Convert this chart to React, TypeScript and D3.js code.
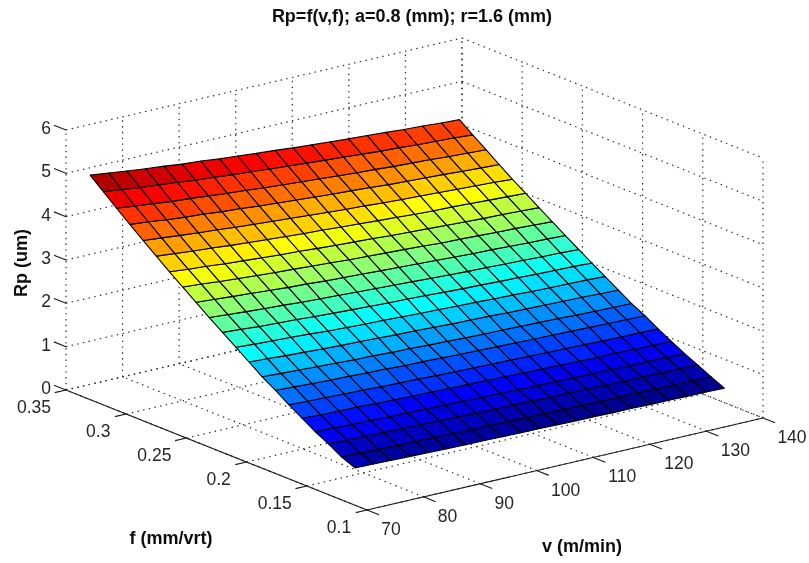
import React, { useEffect, useRef } from 'react'
import * as d3 from 'd3'

const titleText = 'Rp=f(v,f); a=0.8 (mm); r=1.6 (mm)'
const vTicks = [70, 80, 90, 100, 110, 120, 130, 140]
const fTicks = [0.1, 0.15, 0.2, 0.25, 0.3, 0.35]
const fTickLabels = ['0.1', '0.15', '0.2', '0.25', '0.3', '0.35']
const zTicks = [0, 1, 2, 3, 4, 5, 6]

const vValues = [70, 73.3, 76.5, 79.8, 83.1, 86.3, 89.6, 92.9, 96.1, 99.4, 102.7, 105.9, 109.2, 112.5, 115.7, 119, 122.3, 125.5, 128.8, 132.1, 135.3]
const fValues = [0.11, 0.121, 0.132, 0.143, 0.154, 0.165, 0.176, 0.187, 0.198, 0.209, 0.22, 0.231, 0.242, 0.253, 0.264, 0.275, 0.286, 0.297, 0.308, 0.319, 0.33]

// one row per f value, one column per v value
const rpValues = [
  [0.86, 0.85, 0.84, 0.83, 0.82, 0.81, 0.80, 0.80, 0.79, 0.78, 0.78, 0.77, 0.76, 0.76, 0.75, 0.75, 0.74, 0.74, 0.73, 0.73, 0.72],
  [0.99, 0.98, 0.97, 0.96, 0.95, 0.94, 0.94, 0.93, 0.92, 0.92, 0.91, 0.90, 0.90, 0.89, 0.89, 0.88, 0.88, 0.87, 0.87, 0.86, 0.86],
  [1.17, 1.16, 1.15, 1.14, 1.13, 1.12, 1.11, 1.10, 1.09, 1.08, 1.08, 1.07, 1.06, 1.05, 1.05, 1.04, 1.03, 1.03, 1.02, 1.02, 1.01],
  [1.33, 1.32, 1.30, 1.29, 1.28, 1.27, 1.26, 1.25, 1.24, 1.23, 1.22, 1.21, 1.20, 1.20, 1.19, 1.18, 1.18, 1.17, 1.16, 1.16, 1.15],
  [1.52, 1.50, 1.49, 1.48, 1.46, 1.45, 1.44, 1.43, 1.42, 1.41, 1.40, 1.39, 1.38, 1.37, 1.36, 1.35, 1.34, 1.34, 1.33, 1.32, 1.31],
  [1.71, 1.69, 1.68, 1.66, 1.65, 1.63, 1.62, 1.61, 1.59, 1.58, 1.57, 1.56, 1.55, 1.54, 1.53, 1.52, 1.51, 1.50, 1.49, 1.49, 1.48],
  [1.92, 1.90, 1.88, 1.86, 1.85, 1.83, 1.82, 1.80, 1.79, 1.78, 1.76, 1.75, 1.74, 1.73, 1.72, 1.71, 1.70, 1.69, 1.68, 1.67, 1.66],
  [2.11, 2.09, 2.07, 2.05, 2.03, 2.01, 2.00, 1.98, 1.97, 1.95, 1.94, 1.92, 1.91, 1.90, 1.89, 1.88, 1.87, 1.85, 1.84, 1.83, 1.82],
  [2.33, 2.31, 2.28, 2.26, 2.24, 2.22, 2.21, 2.19, 2.17, 2.16, 2.14, 2.12, 2.11, 2.10, 2.08, 2.07, 2.06, 2.05, 2.04, 2.02, 2.01],
  [2.55, 2.52, 2.50, 2.48, 2.46, 2.43, 2.41, 2.39, 2.38, 2.36, 2.34, 2.33, 2.31, 2.30, 2.28, 2.27, 2.25, 2.24, 2.23, 2.22, 2.20],
  [2.77, 2.74, 2.71, 2.69, 2.67, 2.64, 2.62, 2.60, 2.58, 2.56, 2.55, 2.53, 2.51, 2.49, 2.48, 2.46, 2.45, 2.43, 2.42, 2.41, 2.39],
  [2.99, 2.96, 2.93, 2.90, 2.88, 2.85, 2.83, 2.81, 2.79, 2.77, 2.75, 2.73, 2.71, 2.69, 2.67, 2.66, 2.64, 2.63, 2.61, 2.60, 2.58],
  [3.22, 3.19, 3.16, 3.13, 3.10, 3.07, 3.05, 3.02, 3.00, 2.98, 2.96, 2.94, 2.92, 2.90, 2.88, 2.86, 2.85, 2.83, 2.81, 2.80, 2.78],
  [3.45, 3.42, 3.38, 3.35, 3.32, 3.29, 3.27, 3.24, 3.22, 3.19, 3.17, 3.15, 3.13, 3.11, 3.08, 3.07, 3.05, 3.03, 3.02, 3.00, 2.98],
  [3.68, 3.64, 3.61, 3.57, 3.54, 3.51, 3.48, 3.46, 3.43, 3.40, 3.38, 3.36, 3.33, 3.31, 3.29, 3.27, 3.25, 3.23, 3.22, 3.20, 3.18],
  [3.92, 3.88, 3.84, 3.81, 3.77, 3.74, 3.71, 3.68, 3.65, 3.63, 3.60, 3.58, 3.55, 3.53, 3.50, 3.48, 3.47, 3.45, 3.43, 3.41, 3.39],
  [4.16, 4.12, 4.08, 4.04, 4.01, 3.97, 3.94, 3.91, 3.88, 3.85, 3.82, 3.79, 3.77, 3.74, 3.72, 3.70, 3.68, 3.66, 3.64, 3.62, 3.59],
  [4.41, 4.37, 4.32, 4.28, 4.25, 4.21, 4.18, 4.14, 4.11, 4.08, 4.05, 4.02, 4.00, 3.97, 3.94, 3.92, 3.90, 3.88, 3.85, 3.83, 3.81],
  [4.66, 4.61, 4.57, 4.52, 4.49, 4.45, 4.41, 4.38, 4.34, 4.31, 4.28, 4.25, 4.22, 4.19, 4.17, 4.14, 4.12, 4.10, 4.07, 4.05, 4.03],
  [4.92, 4.87, 4.82, 4.78, 4.74, 4.69, 4.66, 4.62, 4.59, 4.55, 4.52, 4.49, 4.46, 4.43, 4.40, 4.37, 4.35, 4.32, 4.30, 4.28, 4.25],
  [5.18, 5.13, 5.08, 5.03, 4.99, 4.94, 4.91, 4.86, 4.83, 4.79, 4.76, 4.72, 4.69, 4.66, 4.63, 4.61, 4.58, 4.55, 4.53, 4.50, 4.48],
]

const FONT = '"Liberation Sans", Arial, sans-serif'

const App = () => {
  const ref = useRef<SVGSVGElement | null>(null)

  useEffect(() => {
    const svg = d3.select(ref.current)
    svg.selectAll('*').remove()

    // Orthographic box: the three scales give each axis' share of its screen vector
    const vScale = d3.scaleLinear().domain([70, 140]).range([0, 1])
    const fScale = d3.scaleLinear().domain([0.1, 0.35]).range([0, 1])
    const zScale = d3.scaleLinear().domain([0, 6]).range([0, 1])
    const origin = { x: 367, y: 510 }
    const vVec = { x: 396, y: -92 }
    const fVec = { x: -301, y: -120 }
    const zVec = { x: 0, y: -260 }

    const project = (v: number, f: number, z: number): [number, number] => [
      origin.x + vScale(v) * vVec.x + fScale(f) * fVec.x + zScale(z) * zVec.x,
      origin.y + vScale(v) * vVec.y + fScale(f) * fVec.y + zScale(z) * zVec.y,
    ]

    // The reference is a resampled screenshot, so everything is slightly soft
    svg.append('defs').append('filter')
      .attr('id', 'soft')
      .attr('filterUnits', 'userSpaceOnUse')
      .attr('x', 0).attr('y', 0).attr('width', 809).attr('height', 563)
      .append('feGaussianBlur')
      .attr('stdDeviation', 0.4)

    svg.append('rect').attr('width', 809).attr('height', 563).attr('fill', 'white')
    const root = svg.append('g').attr('filter', 'url(#soft)')

    const line = d3.line()
    const seg = (g: any, a: [number, number], b: [number, number]) =>
      g.append('path').attr('d', line([a, b]))

    // Grid: floor, back-left wall, back-right wall
    const grid = root.append('g')
      .attr('fill', 'none')
      .attr('stroke', '#2a2a2a')
      .attr('stroke-width', 1.2)
      .attr('stroke-dasharray', '1.4 4.4')

    vTicks.forEach(v => {
      seg(grid, project(v, 0.1, 0), project(v, 0.35, 0))
      seg(grid, project(v, 0.35, 0), project(v, 0.35, 6))
    })
    fTicks.forEach(f => {
      seg(grid, project(70, f, 0), project(140, f, 0))
      seg(grid, project(140, f, 0), project(140, f, 6))
    })
    zTicks.forEach(z => {
      seg(grid, project(70, 0.35, z), project(140, 0.35, z))
      seg(grid, project(140, 0.35, z), project(140, 0.1, z))
    })

    // Axis lines and ticks
    const axes = root.append('g')
      .attr('fill', 'none')
      .attr('stroke', '#1c1c1c')
      .attr('stroke-width', 1.1)
    seg(axes, project(70, 0.35, 0), project(70, 0.1, 0))
    seg(axes, project(70, 0.1, 0), project(140, 0.1, 0))
    vTicks.forEach(v => seg(axes, project(v, 0.1, 0), project(v, 0.09, 0)))
    fTicks.forEach(f => seg(axes, project(70, f, 0), project(68, f, 0)))
    zTicks.forEach(z => seg(axes, project(70, 0.35, z), project(70, 0.36, z)))

    // Jet colormap, 64 levels, as MATLAB scales it to the data range
    const zExtent = d3.extent(rpValues.flat()) as [number, number]
    const levelScale = d3.scaleLinear().domain(zExtent).range([0, 64])
    const jet = d3.scaleLinear<string>()
      .domain([0, 7, 23, 39, 55, 63])
      .range(['#000090', '#0000ff', '#00ffff', '#ffff00', '#ff0000', '#800000'])
    const faceColor = (z: number) => jet(Math.min(63, Math.floor(levelScale(z))))

    // Surface: each face takes the colour of its lowest-index vertex
    const faces = d3.range(fValues.length - 1).flatMap(i =>
      d3.range(vValues.length - 1).map(j => ({ i, j })))
    const closed = d3.line().curve(d3.curveLinearClosed)

    root.append('g')
      .selectAll('path')
      .data(faces)
      .join('path')
      .attr('d', ({ i, j }) => closed([
        project(vValues[j], fValues[i], rpValues[i][j]),
        project(vValues[j + 1], fValues[i], rpValues[i][j + 1]),
        project(vValues[j + 1], fValues[i + 1], rpValues[i + 1][j + 1]),
        project(vValues[j], fValues[i + 1], rpValues[i + 1][j]),
      ]))
      .attr('fill', ({ i, j }) => faceColor(rpValues[i][j]))
      .attr('stroke', '#000')
      .attr('stroke-width', 1.1)
      .attr('stroke-linejoin', 'round')

    // Tick labels
    const labels = root.append('g')
      .attr('font-family', FONT)
      .attr('font-size', 17.5)
      .attr('fill', '#262626')
      .attr('text-anchor', 'middle')

    zTicks.forEach(z => {
      const [x, y] = project(70, 0.35, z)
      labels.append('text')
        .attr('x', x - 15)
        .attr('y', y + 4)
        .attr('text-anchor', 'end')
        .text(z)
    })
    fTicks.forEach((f, i) => {
      const [x, y] = project(70, f, 0)
      const text = fTickLabels[i]
      labels.append('text')
        .attr('x', x + (text.length > 3 ? -32 : -28))
        .attr('y', y + 23)
        .text(text)
    })
    vTicks.forEach(v => {
      const [x, y] = project(v, 0.1, 0)
      labels.append('text')
        .attr('x', x + (v >= 100 ? 29 : 24))
        .attr('y', y + 25)
        .text(v)
    })

    // Title and axis labels
    const bold = root.append('g')
      .attr('font-family', FONT)
      .attr('font-weight', 'bold')
      .attr('font-size', 18)
      .attr('fill', '#111')
      .attr('text-anchor', 'middle')
    bold.append('text').attr('x', 412).attr('y', 22).text(titleText)
    bold.append('text').attr('x', 171).attr('y', 544).text('f (mm/vrt)')
    bold.append('text').attr('x', 582).attr('y', 552).text('v (m/min)')
    bold.append('text')
      .attr('transform', 'translate(27, 263) rotate(-90)')
      .text('Rp (um)')
  }, [])

  return (
    <svg
      ref={ref}
      width={809}
      height={563}
      style={{ position: 'absolute', left: 0, top: 0, display: 'block' }}
    />
  )
}

export default App
